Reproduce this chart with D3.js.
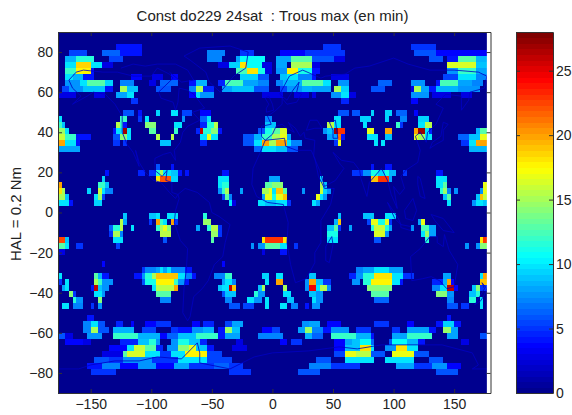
<!DOCTYPE html>
<html>
<head>
<meta charset="utf-8">
<script src="https://cdnjs.cloudflare.com/ajax/libs/d3/7.8.5/d3.min.js"></script>
<style>
  html, body { margin: 0; padding: 0; background: #fff; }
  text { font-family: "Liberation Sans", Arial, sans-serif; fill: #222; }
  .domain, .tick line { stroke: #333; }
</style>
</head>
<body>
<div id="myViz"></div>
<script>
// Valeurs : [lat haut, lon debut, lon fin, minutes]
const northPolar = [
  [84,-129,-108,4],[84,42,57,5],[84,114,135,5],
  [81,-168,-153,5.5],[81,-141,-126,6.5],[81,-126,-108,4],[81,-54,-39,7],[81,-27,-15,5],[81,6,27,3.5],[81,27,60,5],[81,117,135,6],[81,135,177,3.5],
  [78,-171,-162,8.5],[78,-162,-147,11.5],[78,-135,-123,5.5],[78,-54,-42,7],[78,-30,-27,8],[78,-27,-6,10.5],[78,3,15,8],[78,15,33,13],[78,33,51,6],[78,51,60,3],[78,129,141,6],[78,144,153,4],[78,153,168,13],[78,168,177,8.5],
  [75,-171,-162,10],[75,-162,-150,18.5],[75,-150,-141,10],[75,-141,-132,3],[75,-45,-36,3],[75,-36,-27,9.5],[75,-27,-21,18],[75,-21,-9,10.5],[75,-9,0,3],[75,3,12,8],[75,15,33,15],[75,33,39,3],[75,144,168,16.5],[75,168,177,9],
  [72,-171,-162,12],[72,-162,-150,17.5],[72,-150,-147,4],[72,-30,-21,12.5],[72,-21,-12,18],[72,-12,-6,11],[72,-6,0,3],[72,3,12,7.5],[72,12,21,17.5],[72,21,33,11],[72,33,39,4],[72,144,153,7.5],[72,153,168,12],[72,168,177,8],
  [69,-171,-165,10],[69,-165,-156,8.5],[69,-156,-147,4],[69,-117,-108,3.5],[69,-99,-90,3],[69,-84,-78,3.5],[69,-27,-12,9.5],[69,-12,-3,6],[69,6,12,9],[69,12,21,10],[69,21,33,7],[69,33,36,4],[69,48,63,3],[69,141,153,5.5],[69,153,168,10],[69,168,177,7],
  [66,-171,-159,7.5],[66,-159,-153,10],[66,-153,-138,13],[66,-138,-132,9.5],[66,-126,-114,7],[66,-102,-96,3],[66,-93,-78,6.5],[66,-69,-63,4],[66,-63,-54,8.5],[66,-45,-39,4.5],[66,-39,-24,12.5],[66,-24,-12,8],[66,-12,-3,7],[66,3,9,7],[66,9,24,8.5],[66,24,42,13],[66,42,48,10],[66,54,63,7.5],[66,87,99,6.5],[66,114,126,7.5],[66,135,138,4],[66,138,153,12.5],[66,153,165,8],[66,165,174,7],
  [63,-174,-168,5.5],[63,-168,-156,7.5],[63,-156,-138,9],[63,-138,-132,4],[63,-126,-120,15],[63,-120,-111,9],[63,-96,-84,6],[63,-69,-63,7],[63,-63,-57,15],[63,-57,-48,4.5],[63,-42,-33,8],[63,-33,-15,9],[63,-15,-3,6],[63,6,12,5.5],[63,12,24,7.5],[63,24,33,8.5],[63,33,48,8],[63,51,57,15],[63,57,63,9.5],[63,81,93,6],[63,114,117,3],[63,117,123,15],[63,123,129,8],[63,129,135,4],[63,135,153,8.5],[63,153,171,7.5],
  [60,-177,-162,3],[60,-147,-138,3],[60,-129,-120,8],[60,-120,-114,10],[60,-69,-63,3.5],[60,-63,-60,10],[60,-60,-48,7.5],[60,-9,9,3],[60,18,30,3],[60,33,36,3],[60,48,57,7.5],[60,57,63,10],[60,63,69,3],[60,114,129,7.5],[60,132,147,3],[60,156,165,3],
  [57,-117,-111,5],[57,57,63,4.5],[57,114,120,3.5]
];

const north40 = [
  [51,-123,-114,6],[51,-111,-108,4],[51,-96,-93,9.5],[51,-84,-78,10],[51,-75,-66,5.5],[51,-60,-51,3.5],[51,54,63,6],[51,66,72,6],[51,81,84,9.5],[51,93,99,9.5],[51,102,111,6.5],[51,117,120,3.5],
  [48,-177,-174,10],[48,-126,-120,12],[48,-111,-108,5],[48,-105,-102,10],[48,-75,-72,7.5],[48,-60,-54,6.5],[48,-54,-51,10],[48,-6,0,7],[48,51,57,10],[48,72,81,9.5],[48,93,96,9.5],[48,105,111,7],[48,120,129,9.5],
  [45,-177,-174,12],[45,-174,-171,9],[45,-129,-126,15.5],[45,-126,-123,12],[45,-123,-120,4],[45,-105,-96,14],[45,-81,-75,10],[45,-60,-54,4.5],[45,-54,-48,11.5],[45,-48,-45,15.5],[45,-6,3,9],[45,45,51,15.5],[45,51,57,10],[45,75,78,10],[45,102,105,12],[45,105,108,5],[45,120,126,10],[45,126,132,15.5],
  [42,-177,-171,14.5],[42,-171,-168,10],[42,-132,-129,4],[42,-129,-123,10],[42,-123,-120,27],[42,-120,-117,10],[42,-102,-96,13],[42,-81,-78,12],[42,-63,-60,4.5],[42,-60,-57,26],[42,-57,-51,11.5],[42,-51,-45,14],[42,-45,-42,4],[42,-12,-6,6],[42,-6,0,11],[42,0,6,13],[42,6,12,16.5],[42,42,45,7.5],[42,45,51,9],[42,51,54,27],[42,54,60,23],[42,78,84,17],[42,93,99,20],[42,117,120,20],[42,120,126,27],[42,126,129,10],[42,129,132,4.5],[42,168,171,8.5],[42,171,177,13],
  [39,-177,-171,16],[39,-171,-162,12],[39,-162,-150,4],[39,-132,-126,6],[39,-126,-120,14],[39,-120,-117,10],[39,-96,-93,15.5],[39,-84,-81,15.5],[39,-60,-54,10],[39,-54,-51,17],[39,-51,-45,10],[39,-24,-15,6],[39,-15,-9,8.5],[39,-9,0,12],[39,0,6,15],[39,6,12,17],[39,12,15,8],[39,45,54,8],[39,54,57,21],[39,57,60,4],[39,78,87,10],[39,93,99,9],[39,117,120,17],[39,120,126,15],[39,126,132,10],[39,153,162,6.5],[39,162,171,9],[39,171,177,17],
  [36,-177,-171,20],[36,-171,-162,10],[36,-162,-159,4],[36,-132,-126,5],[36,-123,-120,5],[36,-93,-84,9],[36,-60,-54,4.5],[36,-24,-15,6],[36,-15,-9,10],[36,-9,-3,20],[36,-3,3,15],[36,3,12,20],[36,12,15,10],[36,15,24,7],[36,51,54,5],[36,54,57,17],[36,84,87,10],[36,90,93,10],[36,156,162,5],[36,162,168,10],[36,168,177,20],
  [33,-177,-159,8],[33,-15,-9,6.5],[33,-9,-3,10],[33,-3,3,10],[33,3,12,9],[33,12,21,6],[33,162,177,8.5]
];

const north20 = [
  [24,-96,-93,6],[24,-84,-81,4],[24,81,84,4],[24,93,99,4],
  [21,-138,-135,4],[21,-111,-105,4.5],[21,-102,-96,5],[21,-96,-93,11.5],[21,-93,-90,15],[21,-90,-84,10],[21,-84,-78,9],[21,-78,-75,4],[21,-72,-69,4],[21,-42,-36,4],[21,66,75,5],[21,75,81,7.5],[21,81,87,11],[21,87,93,9.5],[21,93,96,11],[21,96,102,8.5],[21,108,111,5],[21,135,141,4],
  [18,-141,-138,9.5],[18,-96,-93,18],[18,-93,-84,22],[18,-84,-78,9.5],[18,-45,-36,10],[18,-3,6,8],[18,39,42,9.5],[18,81,87,19],[18,87,96,23],[18,96,99,8],[18,135,144,10],
  [15,-177,-174,20],[15,-144,-138,12],[15,-138,-135,9],[15,-45,-42,10],[15,-42,-36,11.5],[15,-6,0,13],[15,0,9,14],[15,39,42,15],[15,42,45,9],[15,135,141,10],[15,141,144,13],[15,174,177,17],
  [12,-177,-174,18],[12,-174,-171,15],[12,-153,-150,9.5],[12,-144,-141,16],[12,-141,-138,10],[12,-138,-132,7],[12,-45,-42,7.5],[12,-42,-39,12],[12,-39,-36,15],[12,-27,-24,8],[12,-9,-3,15],[12,-3,0,17],[12,0,3,10],[12,3,9,19],[12,9,12,13],[12,24,27,7.5],[12,39,42,16],[12,42,45,9.5],[12,45,48,7.5],[12,138,141,11.5],[12,141,144,14.5],[12,144,147,7],[12,150,153,7.5],[12,171,174,7.5],[12,174,177,17],
  [9,-177,-171,15],[9,-171,-168,9],[9,-147,-144,10],[9,-144,-141,14.5],[9,-141,-138,5.5],[9,-42,-39,5.5],[9,-39,-36,13],[9,-36,-33,7],[9,-9,-6,8],[9,-6,0,17],[9,0,3,11],[9,3,9,17],[9,9,12,19],[9,36,39,17],[9,39,42,10],[9,42,45,7.5],[9,141,144,9],[9,144,147,13],[9,168,171,9],[9,171,174,19],[9,174,177,16],
  [6,-177,-168,10],[6,-168,-165,4],[6,-147,-141,9.5],[6,-36,-33,10],[6,-33,-30,3],[6,-12,-6,10],[6,-6,3,9],[6,3,12,10],[6,12,15,5],[6,33,36,10],[6,36,39,8],[6,144,147,10],[6,165,168,7.5],[6,168,174,10],[6,174,177,9]
];

const equator = [
  [0,-123,-120,9],[0,-102,-96,9],[0,-96,-93,10],[0,-87,-78,10],[0,-57,-54,11.5],[0,54,57,9],[0,75,84,9],[0,93,102,10],
  [-3,-126,-123,15.5],[-3,-123,-120,8],[-3,-102,-99,5],[-3,-96,-93,20],[-3,-93,-90,12],[-3,-90,-87,10],[-3,-84,-81,20],[-3,-81,-78,5],[-3,-57,-51,14.5],[-3,51,54,8.5],[-3,54,57,19],[-3,78,81,5.5],[-3,81,87,17],[-3,87,93,11],[-3,93,96,17],[-3,96,99,5],[-3,120,123,8],[-3,123,126,17],
  [-6,-135,-132,6.5],[-6,-132,-126,11.5],[-6,-126,-123,15.5],[-6,-117,-114,10],[-6,-96,-93,12],[-6,-93,-90,15],[-6,-90,-87,17],[-6,-87,-84,14],[-6,-63,-60,8],[-6,-54,-51,11.5],[-6,-51,-45,15.5],[-6,-45,-42,5],[-6,45,51,9],[-6,51,54,13],[-6,54,57,5],[-6,63,66,8],[-6,81,84,11.5],[-6,84,93,16],[-6,93,96,11.5],[-6,96,99,8],[-6,114,117,7.5],[-6,123,129,12.5],[-6,129,135,8],
  [-9,-135,-132,5],[-9,-132,-126,15],[-9,-126,-123,7],[-9,-93,-84,15.5],[-9,-51,-45,14.5],[-9,-45,-42,5],[-9,45,54,11],[-9,84,93,16.5],[-9,93,96,7.5],[-9,123,126,10],[-9,126,129,14.5],[-9,129,135,8],
  [-12,-177,-171,22.5],[-12,-171,-168,9],[-12,-132,-123,10],[-12,-90,-87,6],[-12,-51,-48,13],[-12,-9,-6,18],[-12,-6,9,23],[-12,9,12,18],[-12,45,54,10],[-12,84,90,6],[-12,126,129,11.5],[-12,171,174,18],[-12,174,177,23],
  [-15,-177,-171,13],[-15,-171,-168,10],[-15,-162,-156,5],[-15,-129,-126,5.5],[-15,-18,-15,7.5],[-15,-12,-6,7.5],[-15,-6,6,13],[-15,6,12,10],[-15,18,21,5],[-15,159,162,7.5],[-15,168,171,7.5],[-15,171,177,14],
  [-18,-177,-171,3],[-18,-9,-6,3],[-18,6,12,4],
  [-24,-141,-138,3.5],[-24,-42,-39,3.5]
];

const south35 = [
  [-27,-108,-105,5],[-27,-105,-96,7],[-27,-96,-93,8],[-27,-93,-90,10],[-27,-90,-87,8],[-27,-87,-84,10],[-27,-84,-72,7],[-27,-72,-66,4],[-27,69,75,7],[-27,75,84,8],[-27,84,96,10],[-27,96,108,8],
  [-30,-177,-174,10],[-30,-147,-144,13],[-30,-144,-141,8.5],[-30,-141,-135,4],[-30,-114,-108,4],[-30,-108,-105,7.5],[-30,-105,-99,11.5],[-30,-99,-96,15],[-30,-96,-78,19],[-30,-78,-72,10],[-30,-72,-66,7],[-30,-66,-63,4],[-30,-48,-39,7],[-30,-39,-33,12],[-30,-9,-3,9.5],[-30,3,9,10],[-30,30,36,9],[-30,63,69,4.5],[-30,69,75,7.5],[-30,75,84,11.5],[-30,84,99,18],[-30,99,108,10],[-30,108,117,5],[-30,141,147,8],[-30,171,174,10],[-30,174,177,20],
  [-33,-177,-174,5],[-33,-171,-168,10],[-33,-147,-144,15],[-33,-144,-141,12],[-33,-141,-132,7.5],[-33,-108,-105,6],[-33,-105,-96,11],[-33,-96,-81,17.5],[-33,-81,-78,12],[-33,-78,-72,7.5],[-33,-72,-69,4],[-33,-42,-39,8],[-33,-39,-33,10],[-33,-33,-30,7],[-33,-6,-3,10],[-33,3,9,20],[-33,27,30,7.5],[-33,30,36,20],[-33,36,42,9],[-33,42,48,5],[-33,66,72,7.5],[-33,75,81,11.5],[-33,81,99,17.5],[-33,99,105,10],[-33,105,108,4],[-33,132,141,4.5],[-33,141,144,8.5],[-33,144,147,20],[-33,147,150,3.5],[-33,171,177,19],
  [-36,-174,-171,8],[-36,-171,-168,10],[-36,-150,-147,4],[-36,-147,-144,26],[-36,-144,-141,9],[-36,-141,-135,7.5],[-36,-99,-96,10],[-36,-96,-81,15.5],[-36,-81,-78,20],[-36,-45,-42,9],[-36,-42,-36,10],[-36,-36,-33,26],[-36,-33,-30,19],[-36,-12,-9,9],[-36,-9,-6,15],[-36,9,12,15],[-36,27,30,7.5],[-36,30,36,24.5],[-36,36,39,10],[-36,39,45,15.5],[-36,45,48,7.5],[-36,78,99,14],[-36,132,138,7],[-36,138,144,10],[-36,144,150,26],[-36,150,153,3.5],[-36,165,168,9],[-36,168,171,14],[-36,171,177,5],
  [-39,-168,-165,14],[-39,-165,-162,5],[-39,-147,-141,10],[-39,-141,-138,7.5],[-39,-96,-84,13],[-39,-42,-39,6],[-39,-39,-30,9],[-39,-15,-12,11.5],[-39,-12,-6,7.5],[-39,9,15,10],[-39,30,36,9],[-39,36,42,7.5],[-39,81,96,13],[-39,135,144,14],[-39,144,150,7.5],[-39,162,168,9],[-39,168,171,11.5],
  [-42,-165,-162,11.5],[-42,-162,-156,7.5],[-42,-144,-141,14],[-42,-93,-84,7],[-42,-39,-33,7],[-42,-21,-15,10],[-42,-15,-9,7.5],[-42,-6,-3,10],[-42,12,18,9],[-42,33,36,10],[-42,36,42,7.5],[-42,84,96,6.5],[-42,144,150,7],[-42,162,168,11.5],[-42,171,174,10],
  [-45,-174,-168,10],[-45,-165,-156,7],[-45,-150,-147,5],[-45,-144,-141,7.5],[-45,-36,-27,6],[-45,-24,-15,5.5],[-45,-6,-3,10],[-45,6,12,10],[-45,15,21,7],[-45,27,30,4],[-45,33,39,7.5],[-45,144,153,6],[-45,156,162,5],[-45,171,174,10]
];

const southPolar = [
  [-51,-153,-147,4],[-51,144,147,4],
  [-54,-156,-150,7],[-54,-150,-144,10],[-54,-144,-138,6],[-54,-129,-123,4.5],[-54,-117,-114,3.5],[-54,-105,-96,3.5],[-54,-96,-84,5],[-54,-66,-60,3.5],[-54,-57,-48,4.5],[-54,-39,-33,5.5],[-54,-33,-24,8],[-54,24,30,7.5],[-54,30,39,8],[-54,45,57,3.5],[-54,84,96,5],[-54,111,117,3.5],[-54,135,141,4],[-54,141,150,9.5],[-54,150,156,4],
  [-57,-156,-150,7],[-57,-150,-144,15],[-57,-144,-135,6],[-57,-132,-114,8.5],[-57,-108,-96,5.5],[-57,-84,-78,5],[-57,-78,-66,4],[-57,-66,-57,7.5],[-57,-57,-48,8.5],[-57,-45,-39,4],[-57,-39,-33,14.5],[-57,-33,-27,9],[-57,-9,0,3.5],[-57,0,6,5.5],[-57,21,27,8],[-57,27,33,14.5],[-57,33,42,7],[-57,42,48,4],[-57,48,63,7.5],[-57,69,81,5],[-57,99,105,5],[-57,111,129,8],[-57,129,135,4],[-57,141,147,14.5],[-57,147,153,8],
  [-60,-177,-171,6],[-60,-171,-165,3],[-60,-153,-141,7.5],[-60,-132,-111,12],[-60,-111,-93,8.5],[-60,-93,-87,3.5],[-60,-87,-78,6.5],[-60,-78,-63,9],[-60,-63,-45,12],[-60,-45,-39,4],[-60,-39,-27,8],[-60,-12,9,7],[-60,27,33,8.5],[-60,33,42,6.5],[-60,48,69,12],[-60,69,81,8.5],[-60,81,84,4],[-60,99,111,8],[-60,111,132,12],[-60,144,153,8],[-60,171,177,6],
  [-63,-171,-156,3.5],[-63,-156,-150,3],[-63,-126,-111,4.5],[-63,-111,-102,9],[-63,-102,-96,11.5],[-63,-96,-93,7.5],[-63,-84,-78,7.5],[-63,-78,-69,11],[-63,-69,-60,9],[-63,-60,-54,4.5],[-63,-30,-24,3],[-63,6,12,3.5],[-63,15,24,5],[-63,51,60,3.5],[-63,60,66,8],[-63,66,72,9],[-63,72,81,10.5],[-63,81,84,6.5],[-63,96,99,6],[-63,99,111,10.5],[-63,111,120,8.5],[-63,120,126,4],[-63,156,162,3],
  [-66,-135,-120,3.5],[-66,-120,-114,10],[-66,-114,-105,16],[-66,-105,-96,13],[-66,-96,-90,4.5],[-66,-87,-78,7.5],[-66,-78,-69,14],[-66,-69,-63,17],[-66,-63,-54,9],[-66,-54,-48,4],[-66,-33,-21,3],[-66,51,60,3.5],[-66,60,72,9],[-66,72,81,18],[-66,81,84,10],[-66,93,102,7.5],[-66,102,111,18],[-66,111,120,10],
  [-69,-141,-123,3],[-69,-123,-120,13],[-69,-120,-105,16.5],[-69,-105,-93,10],[-69,-93,-84,5],[-69,-84,-72,10],[-69,-72,-54,17.5],[-69,-54,-42,5.5],[-69,51,60,5.5],[-69,60,69,17],[-69,69,81,15.5],[-69,81,93,6],[-69,99,117,17],[-69,117,129,6],
  [-72,-147,-135,6],[-72,-135,-123,5],[-72,-123,-99,7.5],[-72,-99,-78,5],[-72,-78,-54,10],[-72,-54,-33,5.5],[-72,36,48,6],[-72,60,84,10],[-72,93,117,10],[-72,129,141,6],
  [-75,-153,-141,4],[-75,-141,-126,7],[-75,-126,-111,3.5],[-75,-111,-96,7.5],[-75,-96,-81,3.5],[-75,-81,-69,8],[-75,-69,-54,5],[-75,-54,-48,5],[-75,-48,-36,6.5],[-75,-36,-24,5],[-75,30,48,7],[-75,48,72,5],[-75,102,117,8],[-75,117,132,5],[-75,132,144,7.5],[-75,144,156,3.5],
  [-78,-150,-129,5],[-78,-36,-18,5],[-78,21,39,6],[-78,135,153,6]
];

// Traits de cote approximatifs [lon, lat]
const coastNorthAmerica = [[-168,66],[-162,70],[-156,71],[-140,70],[-128,70],[-115,68],[-100,68],[-95,72],[-85,69],[-82,67],[-94,60],[-92,57],[-82,55],[-80,51],[-78,55],[-77,62],[-70,61],[-65,59],[-56,52],[-66,50],[-60,46],[-70,43],[-74,40],[-76,35],[-81,31],[-80,26],[-82,28],[-84,30],[-90,29],[-97,27],[-97,21],[-91,18],[-87,21],[-88,16],[-83,15],[-83,10],[-78,9],[-80,7],[-85,10],[-92,15],[-98,16],[-105,20],[-110,25],[-113,31],[-110,23],[-115,30],[-120,34],[-124,40],[-124,48],[-130,54],[-138,59],[-148,60],[-153,58],[-165,54],[-158,58],[-165,62],[-168,66]];
const coastGreenland = [[-73,78],[-60,82],[-35,83],[-20,80],[-22,72],[-32,68],[-43,60],[-52,65],[-55,70],[-68,76],[-73,78]];
const coastArctic = [[-125,72],[-115,74],[-105,73],[-95,74],[-80,74],[-70,71],[-65,66],[-75,65],[-85,70]];
const coastSouthAmerica = [[-78,9],[-72,12],[-62,10],[-52,5],[-50,0],[-44,-2],[-35,-6],[-39,-15],[-41,-22],[-48,-26],[-53,-34],[-58,-38],[-65,-42],[-68,-52],[-70,-54],[-74,-50],[-73,-38],[-71,-28],[-70,-18],[-76,-14],[-81,-5],[-80,1],[-77,7],[-78,9]];
const coastAfrica = [[-6,36],[10,37],[11,33],[20,31],[32,31],[35,27],[38,18],[43,12],[51,12],[48,4],[40,-4],[40,-15],[35,-20],[35,-25],[28,-33],[19,-35],[15,-26],[12,-15],[13,-5],[9,4],[-4,5],[-13,8],[-17,14],[-16,22],[-10,30],[-6,36]];
const coastEurasia = [[-6,36],[-9,38],[-9,43],[-1,44],[-4,48],[3,51],[8,54],[8,57],[12,54],[20,55],[24,59],[20,60],[22,65],[17,61],[12,56],[6,59],[14,68],[25,71],[40,67],[44,68],[60,69],[68,72],[80,73],[100,77],[112,74],[130,71],[150,71],[170,70],[177,68],[175,62],[163,60],[162,56],[156,51],[156,58],[143,59],[135,54],[141,52],[135,44],[128,40],[127,35],[122,40],[118,38],[122,31],[120,25],[110,21],[106,18],[109,12],[105,9],[100,13],[103,2],[98,9],[95,16],[90,22],[80,15],[78,8],[73,17],[72,21],[67,25],[57,26],[50,30],[56,24],[59,22],[52,16],[43,13],[39,21],[34,28],[35,36],[27,37],[26,40],[23,38],[19,42],[13,45],[18,40],[12,42],[8,44],[3,43],[0,39],[-6,36]];
const coastBlackSea = [[28,41],[35,42],[41,42],[37,46],[31,46],[28,41]];
const coastCaspian = [[50,37],[54,37],[53,41],[52,46],[47,45],[50,41],[50,37]];
const coastUK = [[-5,50],[1,51],[0,54],[-3,58],[-6,57],[-3,54],[-5,52],[-5,50]];
const coastMadagascar = [[49,-12],[50,-16],[47,-25],[44,-24],[44,-17],[49,-12]];
const coastJapan = [[130,32],[135,34],[141,36],[141,41],[145,44],[141,45],[139,38],[132,35],[130,32]];
const coastSumatra = [[95,5],[104,-3],[106,-6],[101,-3],[95,5]];
const coastBorneo = [[109,1],[116,7],[119,1],[116,-4],[110,-3],[109,1]];
const coastJava = [[106,-6],[114,-7],[114,-9],[106,-7.5],[106,-6]];
const coastGuinea = [[131,-1],[141,-3],[150,-10],[141,-9],[134,-4],[131,-1]];
const coastPhilippines = [[120,18],[122,17],[124,12],[126,7],[122,8],[120,14],[120,18]];
const coastAustralia = [[114,-22],[122,-18],[130,-12],[136,-12],[136,-15],[141,-17],[142,-11],[146,-19],[153,-26],[150,-37],[144,-38],[138,-34],[131,-32],[124,-33],[115,-34],[114,-22]];
const coastNewZealand = [[173,-35],[177,-38],[175,-41],[172,-44],[167,-46],[172,-41],[175,-38],[173,-35]];
const coastAntarctica = [[-177,-78],[-160,-78],[-150,-76],[-130,-74],[-110,-74],[-95,-72],[-75,-73],[-62,-65],[-60,-70],[-60,-75],[-35,-78],[-15,-72],[0,-70],[30,-69],[55,-67],[70,-68],[90,-66],[120,-66],[140,-66],[165,-70],[170,-76],[165,-78],[177,-78]];
const coastlines = [coastNorthAmerica, coastGreenland, coastArctic, coastSouthAmerica, coastAfrica, coastEurasia, coastBlackSea, coastCaspian, coastUK, coastMadagascar, coastJapan, coastSumatra, coastBorneo, coastJava, coastGuinea, coastPhilippines, coastAustralia, coastNewZealand, coastAntarctica];

const lonTicks = [-150, -100, -50, 0, 50, 100, 150];
const latTicks = [-80, -60, -40, -20, 0, 20, 40, 60, 80];
const barTicks = [0, 5, 10, 15, 20, 25];
const titleText = 'Const do229 24sat  : Trous max (en min)';
const yLabelText = 'HAL = 0.2 Nm';

// Dimensions
const width = 572, height = 415;
const plot = { left: 58, right: 490.5, top: 32, bottom: 393 };
const bar = { left: 516, right: 553 };
const cellDeg = 3, lonStart = -177, lonEnd = 177, latTop = 90, latBottom = -90;
const barMax = 28;

const x = d3.scaleLinear().domain([lonStart, 180]).range([plot.left, plot.right]);
const y = d3.scaleLinear().domain([latBottom, latTop]).range([plot.bottom, plot.top]);
const barY = d3.scaleLinear().domain([0, barMax]).range([plot.bottom, plot.top]);

// Palette jet sur 64 niveaux, comme dans Matlab
const jet = d3.scaleLinear()
  .domain([0, 0.125, 0.375, 0.625, 0.875, 1])
  .range(['#00008f', '#0000ff', '#00ffff', '#ffff00', '#ff0000', '#800000']);
const palette = d3.range(64).map(i => jet(i / 63));
const color = d3.scaleQuantize().domain([0, barMax]).range(palette);

// Construire la grille a partir des bandes
const nCols = (lonEnd - lonStart) / cellDeg;
const nRows = (latTop - latBottom) / cellDeg;
const grid = d3.range(nRows).map(() => new Array(nCols).fill(0));
[northPolar, north40, north20, equator, south35, southPolar].forEach(band => {
  band.forEach(([lat, lon0, lon1, minutes]) => {
    const row = (latTop - lat) / cellDeg;
    for (let lon = lon0; lon < lon1; lon += cellDeg) {
      grid[row][(lon - lonStart) / cellDeg] = minutes;
    }
  });
});
const cells = [];
grid.forEach((cols, row) => cols.forEach((minutes, col) => {
  cells.push({ lon: lonStart + col * cellDeg, lat: latTop - row * cellDeg, minutes });
}));

const svg = d3.select('#myViz').append('svg')
  .attr('width', width)
  .attr('height', height)
  .style('display', 'block');

// Cellules
svg.append('g')
  .attr('shape-rendering', 'crispEdges')
  .selectAll('rect')
  .data(cells)
  .enter().append('rect')
  .attr('x', d => x(d.lon))
  .attr('y', d => y(d.lat))
  .attr('width', d => x(d.lon + cellDeg) - x(d.lon) + 0.5)
  .attr('height', d => y(d.lat - cellDeg) - y(d.lat) + 0.5)
  .attr('fill', d => color(d.minutes));

// Cotes
const coastLine = d3.line().x(d => x(d[0])).y(d => y(d[1]));
svg.append('g')
  .selectAll('path')
  .data(coastlines)
  .enter().append('path')
  .attr('d', coastLine)
  .attr('fill', 'none')
  .attr('stroke', '#0000c4')
  .attr('stroke-width', 0.8);

// Cache blanc a droite de la grille
svg.append('rect')
  .attr('x', x(lonEnd))
  .attr('y', plot.top)
  .attr('width', plot.right - x(lonEnd))
  .attr('height', plot.bottom - plot.top)
  .attr('fill', '#fff');

// Axes
svg.append('g').attr('transform', `translate(0,${plot.bottom})`)
  .call(d3.axisBottom(x).tickValues(lonTicks).tickSize(-4).tickPadding(6).tickSizeOuter(0))
  .call(g => g.selectAll('text').attr('font-size', 14));
svg.append('g').attr('transform', `translate(0,${plot.top})`)
  .call(d3.axisTop(x).tickValues(lonTicks).tickSize(-4).tickFormat('').tickSizeOuter(0));
svg.append('g').attr('transform', `translate(${plot.left},0)`)
  .call(d3.axisLeft(y).tickValues(latTicks).tickSize(-4).tickPadding(5).tickSizeOuter(0))
  .call(g => g.selectAll('text').attr('font-size', 14));
svg.append('g').attr('transform', `translate(${plot.right},0)`)
  .call(d3.axisRight(y).tickValues(latTicks).tickSize(-4).tickFormat('').tickSizeOuter(0));

// Barre de couleur
svg.append('g')
  .attr('shape-rendering', 'crispEdges')
  .selectAll('rect')
  .data(palette)
  .enter().append('rect')
  .attr('x', bar.left)
  .attr('y', (d, i) => barY((i + 1) * barMax / 64))
  .attr('width', bar.right - bar.left)
  .attr('height', barY(0) - barY(barMax / 64) + 0.5)
  .attr('fill', d => d);
svg.append('g').attr('transform', `translate(${bar.right},0)`)
  .call(d3.axisRight(barY).tickValues(barTicks).tickSize(-4).tickPadding(3).tickSizeOuter(0))
  .call(g => g.selectAll('text').attr('font-size', 14));
svg.append('g').attr('transform', `translate(${bar.left},0)`)
  .call(d3.axisLeft(barY).tickValues(barTicks).tickSize(-4).tickFormat('').tickSizeOuter(0));
svg.append('g').attr('transform', `translate(0,${plot.bottom})`)
  .call(d3.axisBottom(d3.scaleLinear().domain([0, 1]).range([bar.left, bar.right])).tickValues([]).tickSizeOuter(0));
svg.append('g').attr('transform', `translate(0,${plot.top})`)
  .call(d3.axisTop(d3.scaleLinear().domain([0, 1]).range([bar.left, bar.right])).tickValues([]).tickSizeOuter(0));

// Titre et etiquette
svg.append('text')
  .attr('x', 272.5)
  .attr('y', 21)
  .attr('text-anchor', 'middle')
  .attr('font-size', 15)
  .attr('xml:space', 'preserve')
  .style('white-space', 'pre')
  .text(titleText);
svg.append('text')
  .attr('transform', 'translate(21,214) rotate(-90)')
  .attr('text-anchor', 'middle')
  .attr('font-size', 15)
  .text(yLabelText);

d3.selectAll('.tick text').style('fill', '#222');
</script>
</body>
</html>
